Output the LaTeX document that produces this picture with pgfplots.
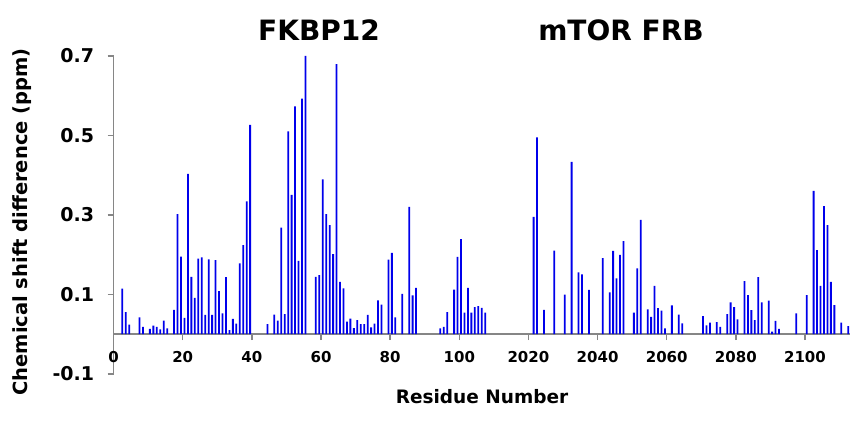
\documentclass[border=0pt]{standalone}
\usepackage{fontspec}
\setmainfont{DejaVu Sans}
\usepackage{pgfplots}
\pgfplotsset{compat=1.18}
\usepackage{pgfplotstable}
\definecolor{axgray}{RGB}{134,134,134}
\definecolor{barblue}{RGB}{0,0,235}

\pgfplotstableread{
r v
3 0.114
4 0.055
5 0.024
8 0.042
9 0.018
11 0.013
12 0.021
13 0.018
14 0.012
15 0.034
16 0.014
18 0.061
19 0.302
20 0.195
21 0.041
22 0.403
23 0.144
24 0.091
25 0.190
26 0.193
27 0.048
28 0.188
29 0.048
30 0.186
31 0.108
32 0.052
33 0.143
34 0.010
35 0.038
36 0.026
37 0.178
38 0.224
39 0.334
40 0.526
45 0.025
47 0.049
48 0.034
49 0.268
50 0.050
51 0.510
52 0.350
53 0.573
54 0.184
55 0.592
56 0.700
59 0.144
60 0.148
61 0.389
62 0.302
63 0.274
64 0.201
65 0.679
66 0.131
67 0.115
68 0.031
69 0.039
70 0.015
71 0.035
72 0.025
73 0.025
74 0.048
75 0.017
76 0.026
77 0.085
78 0.074
80 0.187
81 0.204
82 0.042
84 0.101
86 0.320
87 0.097
88 0.116
95 0.014
96 0.018
97 0.055
99 0.112
100 0.194
101 0.239
102 0.054
103 0.116
104 0.054
105 0.068
106 0.070
107 0.066
108 0.054
}\fkbp

\pgfplotstableread{
r v
2022 0.295
2023 0.495
2025 0.061
2028 0.210
2031 0.099
2033 0.433
2035 0.155
2036 0.150
2038 0.111
2042 0.191
2044 0.105
2045 0.209
2046 0.140
2047 0.199
2048 0.234
2051 0.054
2052 0.165
2053 0.287
2055 0.062
2056 0.043
2057 0.121
2058 0.065
2059 0.059
2060 0.014
2062 0.072
2064 0.049
2065 0.027
2071 0.045
2072 0.022
2073 0.029
2075 0.030
2076 0.018
2078 0.050
2079 0.080
2080 0.068
2081 0.037
2083 0.133
2084 0.098
2085 0.060
2086 0.035
2087 0.143
2088 0.080
2090 0.084
2091 0.006
2092 0.033
2093 0.013
2098 0.052
2101 0.098
2103 0.360
2104 0.211
2105 0.121
2106 0.322
2107 0.274
2108 0.131
2109 0.073
2111 0.029
2113 0.020
}\frb

\begin{document}
\begin{tikzpicture}[x=1pt,y=1pt]
\useasboundingbox (0,0) rectangle (851,426);
\begin{axis}[
  at={(113.6pt,52.2pt)}, anchor=south west,
  scale only axis, width=736.3pt, height=318pt,
  xmin=0.5, xmax=213.5, ymin=-0.1, ymax=0.7,
  axis x line=middle, axis y line=left,
  axis line style={axgray, line width=1.5pt, -},
  hide obscured x ticks=false,
  xtick={0.5,20.5,40.5,60.5,80.5,100.5,120.5,140.5,160.5,180.5,200.5},
  xticklabels={0,20,40,60,80,100,2020,2040,2060,2080,2100},
  ytick={-0.1,0.1,0.3,0.5,0.7},
  yticklabels={-0.1,0.1,0.3,0.5,0.7},
  tick align=outside, major tick length=6pt,
  tick style={axgray, line width=1.5pt},
  xticklabel style={font=\fontsize{15}{15}\selectfont\bfseries, yshift=-8pt},
  yticklabel style={font=\fontsize{19}{19}\selectfont\bfseries, xshift=-10pt},
  clip=false,
]
\addplot[ybar, bar width=1.8pt, fill=barblue, draw=none] table[x=r, y=v] {\fkbp};
\addplot[ybar, bar width=1.8pt, fill=barblue, draw=none] table[x expr=\thisrow{r}-1900, y=v] {\frb};
\end{axis}
\node[font=\fontsize{28}{28}\selectfont\bfseries, inner sep=0pt] at (319,396) {FKBP12};
\node[font=\fontsize{28}{28}\selectfont\bfseries, inner sep=0pt] at (621,396) {mTOR FRB};
\node[font=\fontsize{18.5}{18.5}\selectfont\bfseries, inner sep=0pt] at (482,29) {Residue Number};
\node[font=\fontsize{19.5}{19.5}\selectfont\bfseries, inner sep=0pt, rotate=90] at (22,204) {Chemical shift difference (ppm)};
\end{tikzpicture}
\end{document}
